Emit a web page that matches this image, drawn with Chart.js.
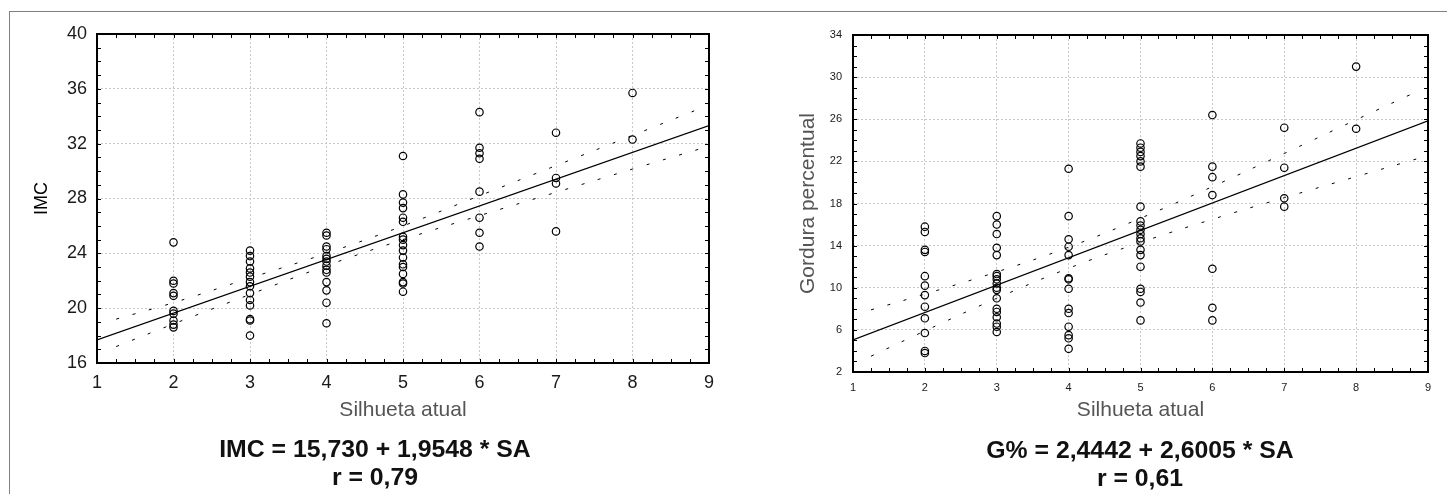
<!DOCTYPE html>
<html>
<head>
<meta charset="utf-8">
<script src="https://cdn.jsdelivr.net/npm/chart.js@4.4.1/dist/chart.umd.min.js"></script>
<style>
    html, body { margin: 0; padding: 0; background: #fff; }
    body { width: 1447px; height: 494px; position: relative; overflow: hidden; font-family: "Liberation Sans", Arial, sans-serif; }
    #frame { position: absolute; left: 9px; top: 11px; right: -2px; bottom: -2px; border-top: 1px solid #808080; border-left: 1px solid #808080; }
    canvas { position: absolute; top: 0; }
    #chartLeft { left: 0; }
    #chartRight { left: 741px; }
    .eq { position: absolute; font-weight: bold; font-size: 24.8px; line-height: 28px; color: #111; text-align: center; white-space: nowrap; }
</style>
</head>
<body>
<div id="frame"></div>
<canvas id="chartLeft" width="741" height="494"></canvas>
<canvas id="chartRight" width="706" height="494"></canvas>
<div class="eq" style="left: 9px; width: 732px; top: 435px;">IMC = 15,730 + 1,9548 * SA<br>r = 0,79</div>
<div class="eq" style="left: 840px; width: 600px; top: 436px;">G% = 2,4442 + 2,6005 * SA<br>r = 0,61</div>

<script>
// silhueta atual (x) for each column of points
var silhuetas = [2, 3, 4, 5, 6, 7, 8];

// IMC values read per silhouette
var imc_s2 = [24.8, 22.0, 21.8, 21.1, 20.9, 19.8, 19.6, 19.1, 18.8, 18.6];
var imc_s3 = [24.2, 23.8, 23.4, 22.9, 22.6, 22.3, 21.9, 21.6, 21.1, 20.6, 20.2, 19.2, 19.1, 18.0];
var imc_s4 = [25.5, 25.3, 24.5, 24.3, 23.8, 23.6, 23.4, 23.1, 22.8, 22.6, 21.9, 21.3, 20.4, 18.9];
var imc_s5 = [31.1, 28.3, 27.7, 27.3, 26.6, 26.3, 25.2, 25.0, 24.6, 24.2, 23.7, 23.2, 23.0, 22.5, 21.9, 21.8, 21.2];
var imc_s6 = [34.3, 31.7, 31.3, 30.9, 28.5, 26.6, 25.5, 24.5];
var imc_s7 = [32.8, 29.5, 29.1, 25.6];
var imc_s8 = [35.7, 32.3];

// gordura percentual values read per silhouette
var gord_s2 = [15.8, 15.3, 13.6, 13.4, 11.1, 10.2, 9.3, 8.2, 7.1, 5.7, 4.0, 3.8];
var gord_s3 = [16.8, 16.0, 15.1, 13.8, 13.1, 11.3, 11.1, 10.8, 10.4, 10.0, 9.8, 9.0, 8.0, 7.7, 7.2, 6.6, 6.3, 5.8];
var gord_s4 = [21.3, 16.8, 14.6, 13.9, 13.1, 10.9, 10.8, 9.9, 8.0, 7.6, 6.3, 5.5, 5.2, 4.2];
var gord_s5 = [23.7, 23.3, 22.9, 22.5, 22.0, 21.5, 17.7, 16.3, 15.9, 15.5, 15.1, 14.7, 14.4, 13.6, 13.1, 12.0, 9.9, 9.6, 8.6, 6.9];
var gord_s6 = [26.4, 21.5, 20.5, 18.8, 11.8, 8.1, 6.9];
var gord_s7 = [25.2, 21.4, 18.5, 17.7];
var gord_s8 = [31.0, 25.1];

// regression line ends (x = 1 and x = 9)
var fit_x = [1, 9];
var imc_fit = [17.68, 33.32];
var gord_fit = [5.04, 25.85];

// dotted confidence band, read along x
var band_x = [1.25, 2, 3, 4, 5, 6, 7, 8, 8.9];
var imc_upper = [19.2, 20.4, 22.2, 24.0, 26.0, 28.2, 30.4, 32.6, 34.6];
var imc_lower = [17.2, 18.85, 21.0, 23.1, 25.0, 26.75, 28.45, 30.15, 31.65];
var gord_upper = [7.9, 9.4, 11.5, 13.85, 16.6, 19.6, 22.75, 25.95, 28.8];
var gord_lower = [3.5, 5.9, 9.0, 11.85, 14.3, 16.5, 18.55, 20.55, 22.35];

var imc_cols = [imc_s2, imc_s3, imc_s4, imc_s5, imc_s6, imc_s7, imc_s8];
var gord_cols = [gord_s2, gord_s3, gord_s4, gord_s5, gord_s6, gord_s7, gord_s8];

function toPoints(cols) {
    var pts = [];
    cols.forEach(function (col, i) {
        col.forEach(function (v) { pts.push({ x: silhuetas[i], y: v }); });
    });
    return pts;
}

function pairUp(xs, ys) {
    return xs.map(function (x, i) { return { x: x, y: ys[i] }; });
}

// inward minor ticks on all four sides plus the black plot frame
var frameTicks = {
    id: 'frameTicks',
    afterDatasetsDraw: function (chart, args, opts) {
        var ctx = chart.ctx;
        var a = chart.chartArea;
        var xs = chart.scales.x, ys = chart.scales.y;
        ctx.save();
        ctx.strokeStyle = '#000';
        ctx.lineWidth = 1;
        ctx.beginPath();
        var v, p;
        for (v = xs.min; v <= xs.max + 1e-9; v += opts.xStep) {
            p = Math.round(xs.getPixelForValue(v)) + 0.5;
            ctx.moveTo(p, a.bottom); ctx.lineTo(p, a.bottom - 4);
            ctx.moveTo(p, a.top); ctx.lineTo(p, a.top + 4);
        }
        for (v = ys.min; v <= ys.max + 1e-9; v += opts.yStep) {
            p = Math.round(ys.getPixelForValue(v)) + 0.5;
            ctx.moveTo(a.left, p); ctx.lineTo(a.left + 4, p);
            ctx.moveTo(a.right, p); ctx.lineTo(a.right - 4, p);
        }
        ctx.stroke();
        ctx.lineWidth = 2;
        ctx.strokeRect(a.left, a.top, a.right - a.left, a.bottom - a.top);
        ctx.restore();
    }
};

function buildChart(canvasId, p) {
    var ctx = document.getElementById(canvasId).getContext('2d');
    return new Chart(ctx, {
        type: 'scatter',
        data: {
            datasets: [{
                type: 'line',
                data: pairUp(fit_x, p.fit),
                borderColor: '#000',
                borderWidth: 1.2,
                pointRadius: 0,
                fill: false
            }, {
                type: 'line',
                data: pairUp(band_x, p.upper),
                borderColor: '#000',
                borderWidth: 1,
                borderDash: [3, 14],
                tension: 0.4,
                pointRadius: 0,
                fill: false
            }, {
                type: 'line',
                data: pairUp(band_x, p.lower),
                borderColor: '#000',
                borderWidth: 1,
                borderDash: [3, 14],
                tension: 0.4,
                pointRadius: 0,
                fill: false
            }, {
                data: toPoints(p.cols),
                pointStyle: 'circle',
                pointRadius: 3.7,
                pointBorderWidth: 1.2,
                pointBorderColor: '#000',
                pointBackgroundColor: 'rgba(255,255,255,0)',
                pointHoverRadius: 3.7
            }]
        },
        options: {
            responsive: false,
            animation: false,
            events: [],
            layout: { padding: p.padding },
            plugins: {
                legend: { display: false },
                tooltip: { enabled: false },
                frameTicks: { xStep: 0.25, yStep: 1 }
            },
            scales: {
                x: {
                    type: 'linear',
                    min: 1,
                    max: 9,
                    ticks: { stepSize: 1, padding: p.xTickPad, color: '#1a1a1a', font: { family: 'Liberation Sans', size: p.tickSize } },
                    grid: { color: '#c8c8c8', lineWidth: 1, drawTicks: false },
                    border: { display: false, dash: [2, 2] },
                    title: {
                        display: true,
                        text: 'Silhueta atual',
                        color: '#555',
                        font: { family: 'Liberation Sans', size: 21 },
                        padding: { top: 0, bottom: p.xTitlePad }
                    },
                    afterFit: function (scale) { scale.height = 70; }
                },
                y: {
                    type: 'linear',
                    min: p.yMin,
                    max: p.yMax,
                    ticks: { stepSize: 4, padding: p.yTickPad, color: '#1a1a1a', font: { family: 'Liberation Sans', size: p.tickSize } },
                    grid: { color: '#c8c8c8', lineWidth: 1, drawTicks: false },
                    border: { display: false, dash: [2, 2] },
                    title: {
                        display: true,
                        text: p.yTitle,
                        color: p.yTitleColor,
                        font: { family: 'Liberation Sans', size: p.yTitleSize },
                        padding: { top: p.yTitlePad, bottom: 0 }
                    },
                    afterFit: function (scale) { scale.width = p.yWidth; }
                }
            }
        },
        plugins: [frameTicks]
    });
}

//IMC
buildChart('chartLeft', {
    cols: imc_cols,
    fit: imc_fit,
    upper: imc_upper,
    lower: imc_lower,
    yMin: 16,
    yMax: 40,
    yTitle: 'IMC',
    yTitleColor: '#000',
    yTitleSize: 18,
    yTitlePad: 21,
    yWidth: 87,
    tickSize: 18,
    xTickPad: 9,
    yTickPad: 10,
    xTitlePad: 10,
    padding: { left: 10, top: 34, right: 32, bottom: 61 }
});

//Gordura percentual
buildChart('chartRight', {
    cols: gord_cols,
    fit: gord_fit,
    upper: gord_upper,
    lower: gord_lower,
    yMin: 2,
    yMax: 34,
    yTitle: 'Gordura percentual',
    yTitleColor: '#555',
    yTitleSize: 21,
    yTitlePad: 45,
    yWidth: 102,
    tickSize: 11,
    xTickPad: 9,
    yTickPad: 11,
    xTitlePad: 19,
    padding: { left: 10, top: 35, right: 19, bottom: 52 }
});
</script>
</body>
</html>
